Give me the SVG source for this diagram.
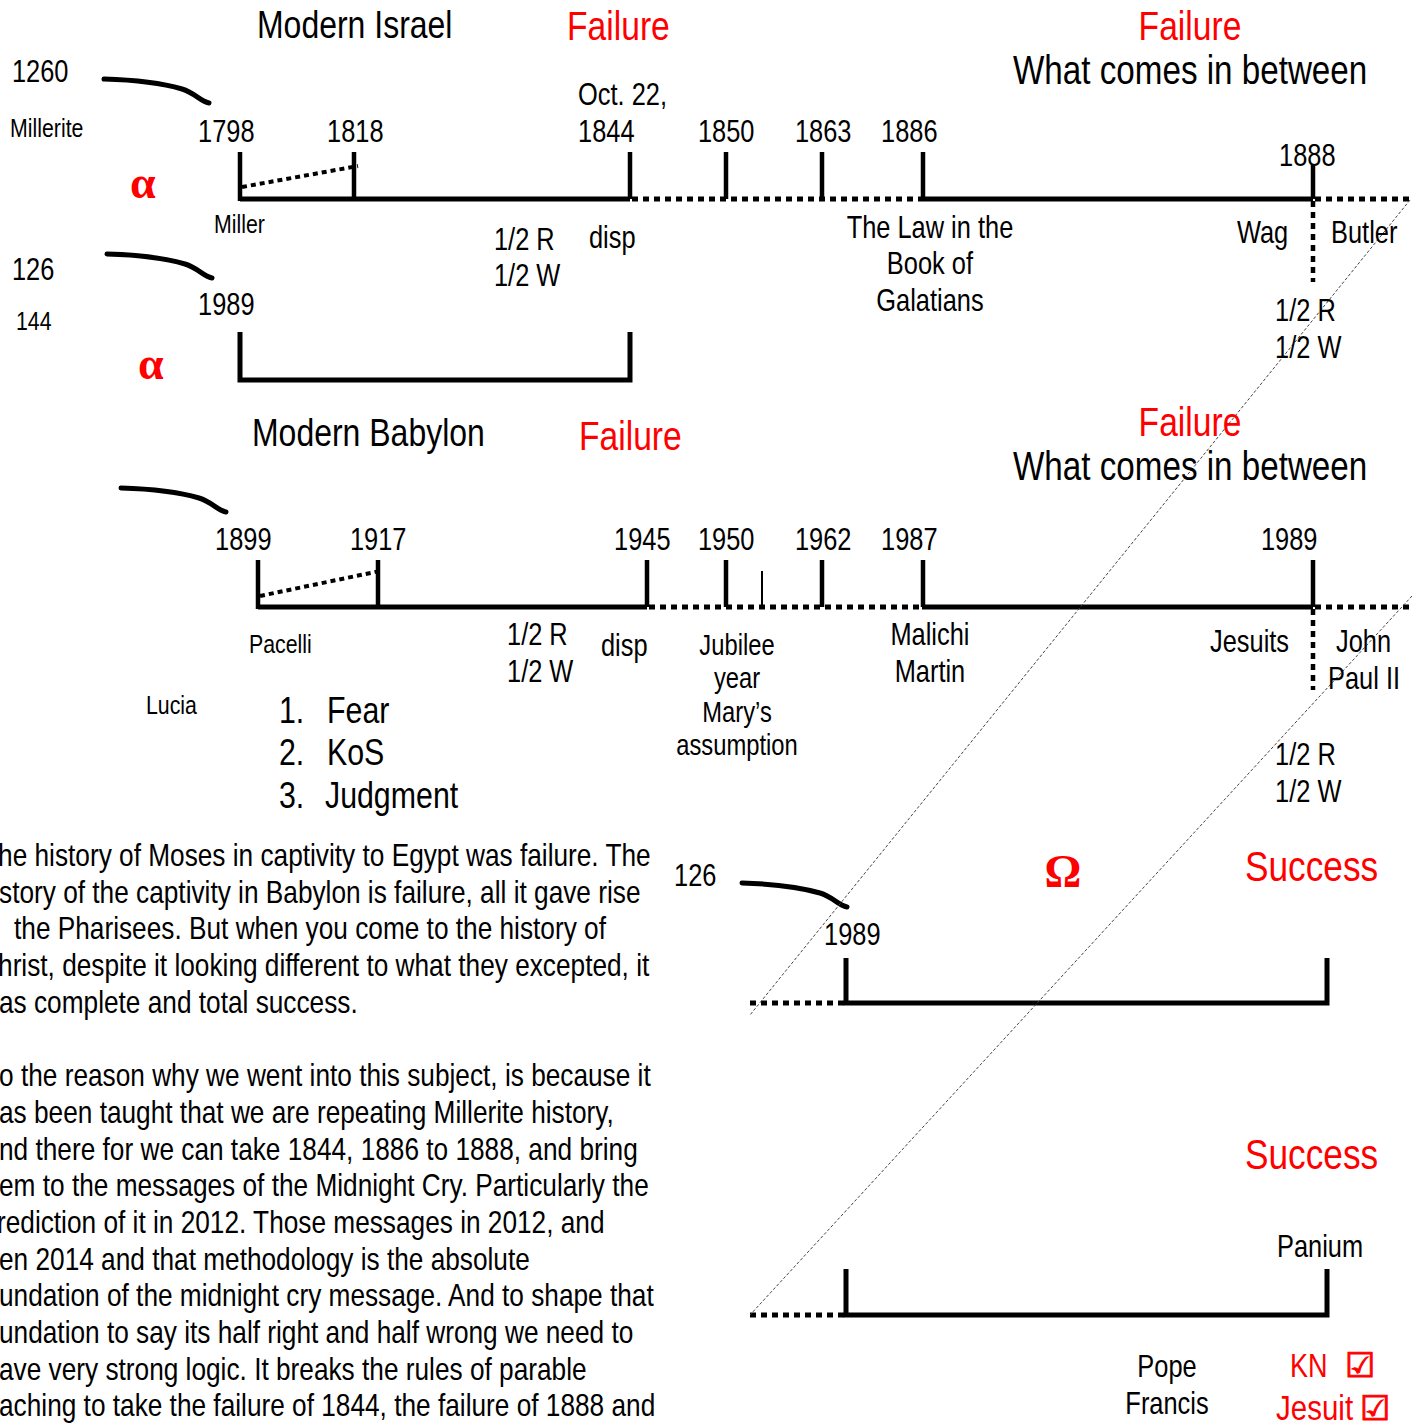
<svg xmlns="http://www.w3.org/2000/svg" width="1416" height="1423" viewBox="0 0 1416 1423">
<style>
text{font-family:"Liberation Sans",Arial,sans-serif;fill:#000;transform:scale(0.82,1);transform-origin:0 0}
.r{fill:#f00}
.t{font-size:39px}
.f{font-size:41px}
.w{font-size:40.5px}
.d{font-size:31px}
.s{font-size:26px}
.j{font-size:29px}
.p{font-size:32px}
.l{font-size:37px}
.sc{font-size:43px}
.m{text-anchor:middle}
.greek{font-family:"Liberation Serif","DejaVu Serif",serif;font-weight:bold;fill:#f00;font-size:46px;transform:none}
.chk{font-family:"DejaVu Sans",sans-serif;font-weight:bold;fill:#f00;stroke:#f00;stroke-width:1;font-size:34px;transform:none}
.solid{stroke:#000;stroke-width:5;fill:none}
.tick{stroke:#000;stroke-width:4.5;fill:none}
.dot{stroke:#000;stroke-width:5;stroke-dasharray:6 5;fill:none}
.dot2{stroke:#000;stroke-width:4;stroke-dasharray:5 4;fill:none}
.vdot{stroke:#000;stroke-width:4.5;stroke-dasharray:6 5;fill:none}
.curve{stroke:#000;stroke-width:5;fill:none;stroke-linecap:round;stroke-linejoin:round}
.diag{stroke:#444;stroke-width:1;stroke-dasharray:3 2;fill:none}
</style>

<g id="connectors">
  <path class="solid" d="M240,199 H630"/>
  <path class="dot" d="M632,199 H922"/>
  <path class="solid" d="M922,199 H1313"/>
  <path class="dot" d="M1315,199 H1410"/>
  <path class="tick" d="M240,152 V201 M354,152 V199 M630,152 V199 M726,152 V199 M822,152 V199 M923,152 V199 M1313,165 V199"/>
  <path class="dot2" d="M242,187 L358,166"/>
  <path class="vdot" d="M1313,201 V282"/>
  <path class="solid" d="M240,332 V380 H630 V332"/>
  <path class="solid" d="M258,607 H647"/>
  <path class="dot" d="M649,607 H922"/>
  <path class="solid" d="M922,607 H1313"/>
  <path class="dot" d="M1315,607 H1410"/>
  <path class="tick" d="M258,560 V609 M378,560 V607 M647,560 V607 M726,560 V607 M822,560 V607 M923,560 V607 M1313,560 V607"/>
  <path stroke="#000" stroke-width="2" d="M762,571 V607"/>
  <path class="dot2" d="M260,596 L380,571"/>
  <path class="vdot" d="M1313,609 V690"/>
  <path class="dot" d="M750,1003 H846"/>
  <path class="solid" d="M846,958 V1003 H1327 V958"/>
  <path class="dot" d="M750,1315 H846"/>
  <path class="solid" d="M846,1269 V1315 H1327 V1269"/>
  <path class="curve" d="M104,79 C140,80 165,84 182,89 C195,93 200,101 209,103"/>
  <path class="curve" d="M107,254 C143,255 168,259 185,264 C198,268 203,276 212,278"/>
  <path class="curve" d="M121,488 C157,489 182,493 199,498 C212,502 217,510 226,512"/>
  <path class="curve" d="M742,883 C778,884 803,888 820,893 C833,897 838,905 847,907"/>
  <path class="diag" d="M1410,200 L750,1015"/>
  <path class="diag" d="M1412,596 L750,1315"/>
</g>

<g id="israel">
  <text class="t" x="313.4" y="38">Modern Israel</text>
  <text class="f r" x="691.5" y="40">Failure</text>
  <text class="f r m" x="1451.2" y="40">Failure</text>
  <text class="w" x="1235.4" y="84">What comes in between</text>
  <text class="d" x="14.6" y="82">1260</text>
  <text class="s" x="12.2" y="137">Millerite</text>
  <text class="greek" x="130" y="198">α</text>
  <text class="d" x="241.5" y="142">1798</text>
  <text class="d" x="398.8" y="142">1818</text>
  <text class="d" x="704.9" y="105">Oct. 22,</text>
  <text class="d" x="704.9" y="142">1844</text>
  <text class="d" x="851.2" y="142">1850</text>
  <text class="d" x="969.5" y="142">1863</text>
  <text class="d" x="1074.4" y="142">1886</text>
  <text class="d" x="1559.8" y="166">1888</text>
  <text class="s" x="261" y="233">Miller</text>
  <text class="d" x="602.4" y="250">1/2 R</text>
  <text class="d" x="602.4" y="286">1/2 W</text>
  <text class="d" x="718.3" y="248">disp</text>
  <text class="d m" x="1134.1" y="238">The Law in the</text>
  <text class="d m" x="1134.1" y="274">Book of</text>
  <text class="d m" x="1134.1" y="311">Galatians</text>
  <text class="d" x="1508.5" y="243">Wag</text>
  <text class="d" x="1623.2" y="243">Butler</text>
  <text class="d" x="1554.9" y="321">1/2 R</text>
  <text class="d" x="1554.9" y="358">1/2 W</text>
</g>

<g id="israel-1989">
  <text class="d" x="14.6" y="280">126</text>
  <text class="s" x="19.5" y="330">144</text>
  <text class="d" x="241.5" y="315">1989</text>
  <text class="greek" x="138" y="379">α</text>
</g>

<g id="babylon">
  <text class="t" x="307.3" y="446">Modern Babylon</text>
  <text class="f r" x="706.1" y="450">Failure</text>
  <text class="f r m" x="1451.2" y="436">Failure</text>
  <text class="w" x="1235.4" y="480">What comes in between</text>
  <text class="d" x="262.2" y="550">1899</text>
  <text class="d" x="426.8" y="550">1917</text>
  <text class="d" x="748.8" y="550">1945</text>
  <text class="d" x="851.2" y="550">1950</text>
  <text class="d" x="969.5" y="550">1962</text>
  <text class="d" x="1074.4" y="550">1987</text>
  <text class="d" x="1537.8" y="550">1989</text>
  <text class="s" x="303.7" y="653">Pacelli</text>
  <text class="d" x="618.3" y="645">1/2 R</text>
  <text class="d" x="618.3" y="682">1/2 W</text>
  <text class="d" x="732.9" y="656">disp</text>
  <text class="j m" x="898.8" y="655">Jubilee</text>
  <text class="j m" x="898.8" y="688">year</text>
  <text class="j m" x="898.8" y="722">Mary’s</text>
  <text class="j m" x="898.8" y="755">assumption</text>
  <text class="d m" x="1134.1" y="645">Malichi</text>
  <text class="d m" x="1134.1" y="682">Martin</text>
  <text class="d" x="1475.6" y="652">Jesuits</text>
  <text class="d" x="1629.3" y="652">John</text>
  <text class="d" x="1619.5" y="689">Paul II</text>
  <text class="d" x="1554.9" y="765">1/2 R</text>
  <text class="d" x="1554.9" y="802">1/2 W</text>
  <text class="s" x="178" y="714">Lucia</text>
  <text class="l" x="340.2" y="723">1.</text>
  <text class="l" x="398.8" y="723">Fear</text>
  <text class="l" x="340.2" y="765">2.</text>
  <text class="l" x="398.8" y="765">KoS</text>
  <text class="l" x="340.2" y="808">3.</text>
  <text class="l" x="396.3" y="808">Judgment</text>
</g>

<g id="success-1">
  <text class="d" x="822" y="886">126</text>
  <text class="d" x="1004.9" y="945">1989</text>
  <text class="greek" x="1063" y="887" text-anchor="middle">Ω</text>
  <text class="r sc" x="1518.3" y="881">Success</text>
</g>

<g id="success-2">
  <text class="r sc" x="1518.3" y="1169">Success</text>
  <text class="d" x="1557.3" y="1257">Panium</text>
  <text class="d m" x="1423.2" y="1377">Pope</text>
  <text class="d m" x="1423.2" y="1414">Francis</text>
  <text class="r" style="font-size:33px" x="1573.2" y="1377">KN</text>
  <text class="chk" x="1345" y="1377">☑</text>
  <text class="r" style="font-size:36px" x="1556.1" y="1420">Jesuit</text>
  <text class="chk" x="1360" y="1420">☑</text>
</g>

<g id="paragraph">
  <text class="p" x="-2.4" y="866">he history of Moses in captivity to Egypt was failure. The</text>
  <text class="p" x="-1.2" y="903">story of the captivity in Babylon is failure, all it gave rise</text>
  <text class="p" x="17.1" y="939">the Pharisees. But when you come to the history of</text>
  <text class="p" x="-2.4" y="976">hrist, despite it looking different to what they excepted, it</text>
  <text class="p" x="-1.2" y="1013">as complete and total success.</text>
  <text class="p" x="-1.2" y="1086">o the reason why we went into this subject, is because it</text>
  <text class="p" x="-1.2" y="1123">as been taught that we are repeating Millerite history,</text>
  <text class="p" x="-1.2" y="1160">nd there for we can take 1844, 1886 to 1888, and bring</text>
  <text class="p" x="-1.2" y="1196">em to the messages of the Midnight Cry. Particularly the</text>
  <text class="p" x="-3.7" y="1233">rediction of it in 2012. Those messages in 2012, and</text>
  <text class="p" x="-1.2" y="1270">en 2014 and that methodology is the absolute</text>
  <text class="p" x="-1.2" y="1306">undation of the midnight cry message. And to shape that</text>
  <text class="p" x="-1.2" y="1343">undation to say its half right and half wrong we need to</text>
  <text class="p" x="-1.2" y="1380">ave very strong logic.  It breaks the rules of parable</text>
  <text class="p" x="-1.2" y="1416">aching to take the failure of 1844, the failure of 1888 and</text>
</g>
</svg>
